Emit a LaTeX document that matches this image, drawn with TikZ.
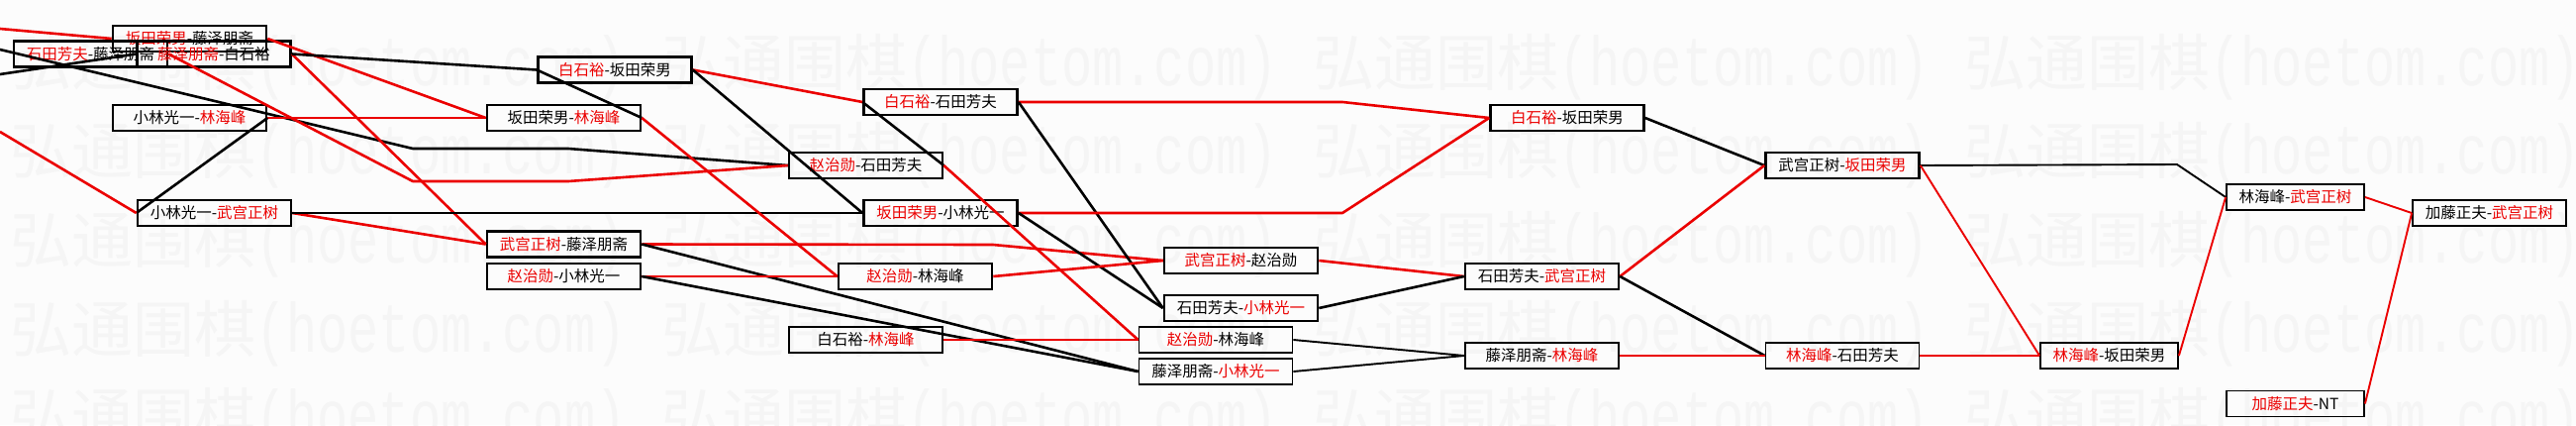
\documentclass[tikz,border=0pt]{standalone}
\usepackage{fontspec}
\setmainfont{Noto Sans CJK SC}
\newfontfamily\wmlat{Liberation Mono}
\definecolor{lred}{RGB}{235,0,0}
\definecolor{wmc}{RGB}{245,245,245}
\newcommand\rdt[1]{\textcolor{lred}{#1}}
\begin{document}
\begin{tikzpicture}[x=1pt,y=-1pt,
  box/.style={draw=black, line width=2.6pt, minimum width=155pt, minimum height=26pt, inner sep=0pt, font=\fontsize{15.5}{16}\selectfont},
  tbox/.style={box, line width=1.8pt},
  nbox/.style={tbox, minimum width=139pt},
  rl/.style={draw=lred, line width=2.6pt, line join=round},
  bl/.style={draw=black, line width=2.6pt, line join=round},
  trl/.style={rl, line width=1.9pt},
  tbl/.style={bl, line width=1.9pt},
  wm/.style={anchor=west, text=wmc, inner sep=0pt}
]
\useasboundingbox (0,0) rectangle (2602,429);
\fill[white!99!black] (0,0) rectangle (2602,429);
% watermark
\foreach \yy in {68,157,247,337,425}{
  \foreach \xx in {10,668,1326,1984}{
    \node[wm] at (\xx,\yy) {\fontsize{62}{62}\selectfont 弘通围棋\scalebox{1}[1.35]{\wmlat\fontsize{52}{52}\selectfont(hoetom.com)}};
  }
}
% nodes
\node[box] (n1) at (191.5,39) {\rdt{坂田荣男}-藤泽朋斋};
\node[box] (n2a) at (91.5,54.5) {\rdt{石田芳夫}-藤泽朋斋};
\node[box] (n2b) at (216,54.5) {\rdt{藤泽朋斋}-白石裕};
\node[box] (n3) at (191.5,119) {小林光一-\rdt{林海峰}};
\node[box] (n4) at (621,70.5) {\rdt{白石裕}-坂田荣男};
\node[box] (n5) at (569.5,119) {坂田荣男-\rdt{林海峰}};
\node[box] (n6) at (216.5,215) {小林光一-\rdt{武宫正树}};
\node[box] (n7) at (569.5,246.5) {\rdt{武宫正树}-藤泽朋斋};
\node[box] (n8) at (569.5,279) {\rdt{赵治勋}-小林光一};
\node[box] (n9) at (950,103) {\rdt{白石裕}-石田芳夫};
\node[box] (n10) at (874.5,167) {\rdt{赵治勋}-石田芳夫};
\node[box] (n11) at (950,215) {\rdt{坂田荣男}-小林光一};
\node[box] (n12) at (924.5,279) {\rdt{赵治勋}-林海峰};
\node[tbox] (n13) at (874.5,343) {白石裕-\rdt{林海峰}};
\node[box] (n14) at (1253.5,263) {\rdt{武宫正树}-赵治勋};
\node[box] (n15) at (1253.5,311) {石田芳夫-\rdt{小林光一}};
\node[tbox] (n16) at (1228,343) {\rdt{赵治勋}-林海峰};
\node[tbox] (n17) at (1228,375) {藤泽朋斋-\rdt{小林光一}};
\node[box] (n18) at (1583,119) {\rdt{白石裕}-坂田荣男};
\node[box] (n19) at (1861,167) {武宫正树-\rdt{坂田荣男}};
\node[box] (n20) at (1557.5,279) {石田芳夫-\rdt{武宫正树}};
\node[tbox] (n21) at (1557.5,359) {藤泽朋斋-\rdt{林海峰}};
\node[tbox] (n22) at (1861,359) {\rdt{林海峰}-石田芳夫};
\node[nbox] (n25) at (2130.5,359) {\rdt{林海峰}-坂田荣男};
\node[nbox] (n23) at (2318.5,199) {林海峰-\rdt{武宫正树}};
\node[nbox] (n26) at (2318.5,407.5) {\rdt{加藤正夫}-NT};
\node[tbox] (n24) at (2514.5,215) {加藤正夫-\rdt{武宫正树}};
% free ends
\coordinate (e1) at (0,29);
\coordinate (e2) at (0,50);
\coordinate (e3) at (0,75);
\coordinate (e4) at (0,133);
% connectors
\path[rl] (e1) -- (n1.west);
\path[bl] (e2) -- (417,150) -- (574,150) -- (n10.west);
\path[bl] (e3) -- (n2b.west);
\path[rl] (n1.east) -- (n5.west);
\path[rl] (n2a.east) -- (417,183) -- (574,183) -- (n10.west);
\path[rl] (n2b.east) -- (n7.west);
\path[bl] (n2b.east) -- (n4.west);
\path[rl] (n3.east) -- (n5.west);
\path[bl] (n3.east) -- (n6.west);
\path[rl] (e4) -- (n6.west);
\path[rl] (n6.east) -- (n7.west);
\path[bl] (n6.east) -- (n11.west);
\path[rl] (n4.east) -- (n9.west);
\path[bl] (n4.east) -- (n11.west);
\path[bl] (n5.east) -- (n4.west);
\path[rl] (n5.east) -- (n12.west);
\path[rl] (n7.east) -- (1003,247) -- (n14.west);
\path[bl] (n7.east) -- (n17.west);
\path[rl] (n8.east) -- (n12.west);
\path[bl] (n8.east) -- (n17.west);
\path[rl] (n9.east) -- (1356,103) -- (n18.west);
\path[bl] (n9.east) -- (n15.west);
\path[bl] (n10.east) -- (n9.west);
\path[rl] (n10.east) -- (n16.west);
\path[rl] (n11.east) -- (1356,215) -- (n18.west);
\path[bl] (n11.east) -- (n15.west);
\path[rl] (n12.east) -- (n14.west);
\path[trl] (n13.east) -- (n16.west);
\path[rl] (n14.east) -- (n20.west);
\path[bl] (n15.east) -- (n20.west);
\path[tbl] (n16.east) -- (n21.west);
\path[tbl] (n17.east) -- (n21.west);
\path[bl] (n18.east) -- (n19.west);
\path[rl] (n20.east) -- (n19.west);
\path[bl] (n20.east) -- (n22.west);
\path[trl] (n21.east) -- (n22.west);
\path[tbl] (n19.east) -- (2199,166) -- (n23.west);
\path[trl] (n19.east) -- (n25.west);
\path[trl] (n22.east) -- (n25.west);
\path[trl] (n25.east) -- (n23.west);
\path[trl] (n23.east) -- (n24.west);
\path[trl] (n26.east) -- (n24.west);
\end{tikzpicture}
\end{document}
